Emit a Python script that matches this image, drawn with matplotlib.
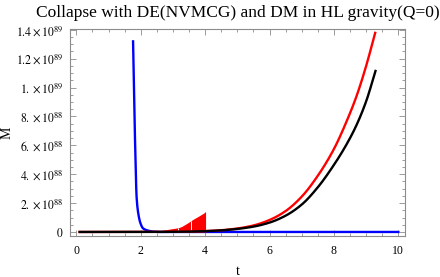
import matplotlib
matplotlib.use("Agg")
import matplotlib.pyplot as plt
import numpy as np
from matplotlib.ticker import MultipleLocator

SCALE = 1e89

# Blue curve (t, M/1e89)
blue_t = [1.76, 1.795, 1.83, 1.87, 1.92, 1.99, 2.07, 2.23, 2.4, 2.6, 4.0, 6.0, 8.0, 10.0]
blue_m = [1.32, 0.91, 0.55, 0.24, 0.13, 0.06, 0.025, 0.009, 0.002, 0.0, 0.0, 0.0, 0.0, 0.0]

# Red curve: oscillating (filled) envelope part
red_fill_t = [2.35, 2.5, 2.7, 2.9, 3.2, 3.4, 3.63, 3.8, 4.0]
red_fill_m = [0.0, 0.004, 0.012, 0.020, 0.032, 0.055, 0.088, 0.11, 0.137]
red_gap_t = [3.16, 3.55]

# Red smooth curve
red_t = [0.1, 1.0, 2.0, 3.0, 3.5, 4.0, 4.5, 5.0, 5.5, 6.0, 6.5, 7.0, 7.5, 8.0, 8.4, 8.7, 9.0, 9.28]
red_m = [0.0, 0.0, 0.0, 0.0015, 0.003, 0.006, 0.012, 0.024, 0.045, 0.083, 0.145, 0.245, 0.39, 0.575, 0.77, 0.94, 1.15, 1.379]

# Black curve
black_t = [0.1, 1.0, 2.0, 3.0, 3.5, 4.0, 4.5, 5.0, 5.5, 6.0, 6.5, 7.0, 7.5, 8.0, 8.4, 8.7, 9.0, 9.29]
black_m = [0.0, 0.0, 0.0, 0.001, 0.0025, 0.0055, 0.011, 0.021, 0.037, 0.065, 0.113, 0.19, 0.31, 0.465, 0.61, 0.74, 0.905, 1.115]

yticks = [0, 0.2, 0.4, 0.6, 0.8, 1.0, 1.2, 1.4]
ytick_labels = [r"$0$", r"$2.\times10^{88}$", r"$4.\times10^{88}$", r"$6.\times10^{88}$",
                r"$8.\times10^{88}$", r"$1.\times10^{89}$", r"$1.2\times10^{89}$", r"$1.4\times10^{89}$"]
xticks = [0, 2, 4, 6, 8, 10]

plt.rcParams['font.family'] = ['Liberation Serif', 'DejaVu Serif']
plt.rcParams['mathtext.fontset'] = 'stix'


def pchip(x, y, xn):
    x = np.asarray(x, float); y = np.asarray(y, float)
    h = np.diff(x); d = np.diff(y) / h
    n = len(x)
    m = np.zeros(n)
    for k in range(1, n - 1):
        if d[k - 1] * d[k] <= 0:
            m[k] = 0.0
        else:
            w1 = 2 * h[k] + h[k - 1]; w2 = h[k] + 2 * h[k - 1]
            m[k] = (w1 + w2) / (w1 / d[k - 1] + w2 / d[k])
    m[0] = d[0]; m[-1] = d[-1]
    idx = np.clip(np.searchsorted(x, xn) - 1, 0, n - 2)
    hh = h[idx]; t = (xn - x[idx]) / hh
    h00 = 2 * t**3 - 3 * t**2 + 1; h10 = t**3 - 2 * t**2 + t
    h01 = -2 * t**3 + 3 * t**2; h11 = t**3 - t**2
    return h00 * y[idx] + h10 * hh * m[idx] + h01 * y[idx + 1] + h11 * hh * m[idx + 1]


fig = plt.figure(figsize=(4.4, 2.77), dpi=100)
ax = fig.add_axes([0.159, 0.148, 0.761, 0.747])

tt = np.linspace(blue_t[0], blue_t[-1], 1500)
ax.plot(tt, pchip(blue_t, blue_m, tt) * SCALE, color='#0000ff', lw=1.7, zorder=2)

ft = np.linspace(red_fill_t[0], red_fill_t[-1], 200)
fm = pchip(red_fill_t, red_fill_m, ft) * SCALE
ax.fill_between(ft, 0, fm, color='#ff0000', lw=0, zorder=3)
ax.vlines(red_fill_t[-1], 0, red_fill_m[-1] * SCALE, color='#ff0000', lw=0.8, zorder=3)
for g in red_gap_t:
    ax.vlines(g, 0.004 * SCALE, np.interp(g, ft, fm), color='white', lw=0.7, zorder=3.5)

tt = np.linspace(red_t[0], red_t[-1], 800)
ax.plot(tt, pchip(red_t, red_m, tt) * SCALE, color='#ff0000', lw=1.7, zorder=4)

tt = np.linspace(black_t[0], black_t[-1], 800)
ax.plot(tt, pchip(black_t, black_m, tt) * SCALE, color='black', lw=1.7, zorder=5)

ax.set_xlim(-0.2, 10.2)
ax.set_ylim(-0.028 * SCALE, 1.405 * SCALE)

ax.set_xticks(xticks)
ax.set_xticklabels([str(x) for x in xticks])
ax.set_yticks([y * SCALE for y in yticks])
ax.set_yticklabels(ytick_labels)
ax.xaxis.set_minor_locator(MultipleLocator(0.5))
ax.yaxis.set_minor_locator(MultipleLocator(0.05 * SCALE))

frame_c = '#8c8c8c'
for s in ax.spines.values():
    s.set_color(frame_c)
    s.set_linewidth(0.8)
ax.tick_params(which='both', direction='in', top=True, right=True, color=frame_c,
               labelsize=8.5, width=0.6)
ax.tick_params(axis='x', pad=6.5)
ax.tick_params(axis='y', pad=5)
ax.tick_params(which='major', length=4)
ax.tick_params(which='minor', length=2)

ax.set_xlabel('t', fontsize=10)
ax.set_ylabel('M', fontsize=10)
ax.xaxis.set_label_coords(0.5, -0.14)
ax.yaxis.set_label_coords(-0.17, 0.5)
ax.set_title('Collapse with DE(NVMCG) and DM in HL gravity(Q=0)', fontsize=12.5, pad=9)

fig.savefig('out.png', dpi=100)
